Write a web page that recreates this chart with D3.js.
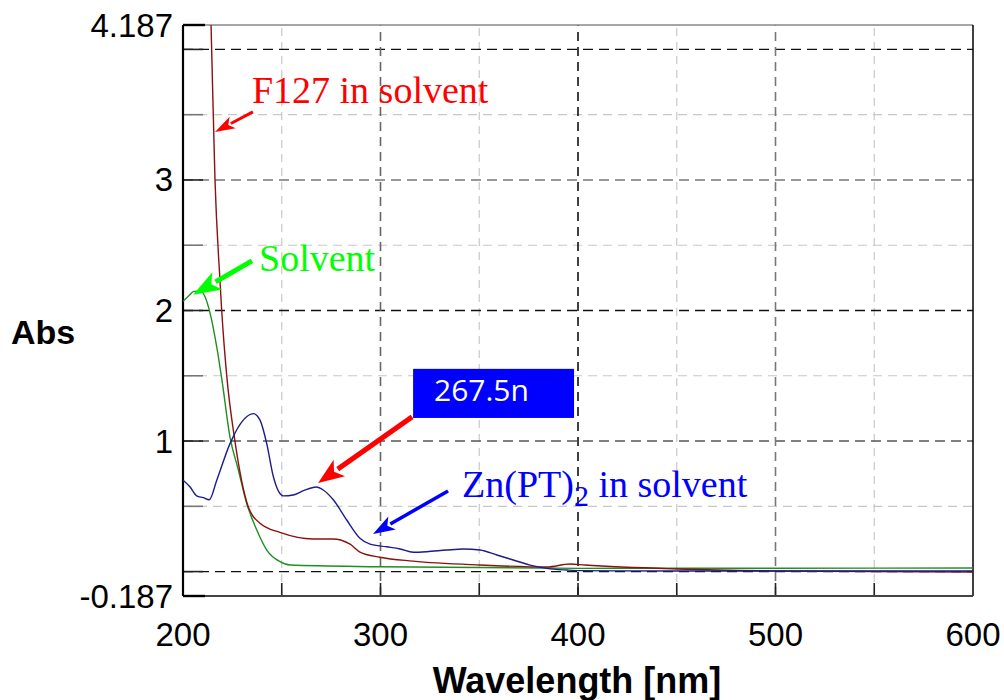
<!DOCTYPE html>
<html>
<head>
<meta charset="utf-8">
<script src="https://cdn.jsdelivr.net/npm/d3@7"></script>
<style>
  html, body { margin: 0; padding: 0; background: #fff; }
  svg { display: block; }
</style>
</head>
<body>
<svg id="chart" width="1004" height="700"></svg>
<script>
// ---------- data ----------
const xTickLabels = [200, 300, 400, 500, 600];
const yTickLabels = ["4.187", "3", "2", "1", "-0.187"];
const yTickValues = [4.187, 3, 2, 1, -0.187];
const xMajorGrid = [300, 400, 500];
const xMinorGrid = [250, 350, 450, 550];
const yMajorGrid = [0, 1, 2, 3, 4];
const yMinorGrid = [0.5, 1.5, 2.5, 3.5];

// F127 in solvent (dark red)
const f127Wl = [211.0, 212.9, 214.2, 216.2, 218.7, 219.6, 222.1, 226.3, 232.9, 239.0, 249.1, 265.8, 275.9, 284.6, 289.6, 299.7, 316.5, 350.4, 384.3, 396.0, 403.5, 450, 500, 600];
const f127Abs = [5.8, 4.9, 4.187, 3.0, 2.234, 2.0, 1.507, 1.0, 0.503, 0.37, 0.30, 0.25, 0.25, 0.21, 0.15, 0.11, 0.08, 0.05, 0.035, 0.058, 0.05, 0.02, 0.005, -0.003];

// Solvent (green)
const solvWl = [200, 203.5, 205.2, 208.6, 211.1, 213.7, 217.1, 219.6, 223.8, 228.0, 232.3, 237.3, 242.4, 249.1, 254.2, 299.7, 401, 450, 500, 600];
const solvAbs = [2.07, 2.12, 2.145, 2.15, 2.107, 1.98, 1.72, 1.48, 1.03, 0.78, 0.52, 0.32, 0.165, 0.076, 0.05, 0.037, 0.025, 0.026, 0.026, 0.027];

// Zn(PT)2 in solvent (navy)
const znWl = [200, 203.5, 206.9, 210.3, 213.3, 217.1, 223.8, 230.5, 235.6, 239.0, 242.4, 245.7, 250.8, 255.8, 261.0, 267.5, 271.0, 276.1, 282.9, 289.6, 294.7, 303.1, 309.9, 316.6, 323.4, 333.5, 342.0, 350.4, 358.9, 367.2, 375.7, 384.2, 394.3, 401, 450, 500, 600];
const znAbs = [0.70, 0.65, 0.58, 0.566, 0.55, 0.70, 0.98, 1.16, 1.21, 1.16, 0.98, 0.73, 0.58, 0.587, 0.62, 0.648, 0.625, 0.55, 0.395, 0.255, 0.21, 0.19, 0.173, 0.148, 0.152, 0.165, 0.173, 0.165, 0.127, 0.089, 0.05, 0.025, 0.012, 0.007, 0.005, 0.005, 0.004];

// ---------- layout ----------
const svg = d3.select("#chart");
const margin = { left: 183, top: 25, right: 1004 - 973, bottom: 700 - 596 };
const W = 1004 - margin.left - margin.right;
const H = 700 - margin.top - margin.bottom;

const x = d3.scaleLinear().domain([200, 600]).range([margin.left, margin.left + W]);
const y = d3.scaleLinear().domain([-0.187, 4.187]).range([margin.top + H, margin.top]);

const gridDark = { 0: "#111", 1: "#555", 2: "#111", 3: "#777", 4: "#111", 300: "#666", 400: "#111", 500: "#777" };

const g = svg.append("g");

// minor grid
g.selectAll(".ymin").data(yMinorGrid).join("line")
  .attr("x1", x(200)).attr("x2", x(600))
  .attr("y1", d => y(d)).attr("y2", d => y(d))
  .attr("stroke", "#c8c8c8").attr("stroke-width", 1.2).attr("stroke-dasharray", "9,6");
g.selectAll(".xmin").data(xMinorGrid).join("line")
  .attr("y1", y(-0.187)).attr("y2", y(4.187))
  .attr("x1", d => x(d)).attr("x2", d => x(d))
  .attr("stroke", "#c8c8c8").attr("stroke-width", 1.2).attr("stroke-dasharray", "8,6");
// major grid
g.selectAll(".ymaj").data(yMajorGrid).join("line")
  .attr("x1", x(200)).attr("x2", x(600))
  .attr("y1", d => y(d)).attr("y2", d => y(d))
  .attr("stroke", d => gridDark[d]).attr("stroke-width", 1.4).attr("stroke-dasharray", "10,6");
g.selectAll(".xmaj").data(xMajorGrid).join("line")
  .attr("y1", y(-0.187)).attr("y2", y(4.187))
  .attr("x1", d => x(d)).attr("x2", d => x(d))
  .attr("stroke", d => gridDark[d]).attr("stroke-width", 1.6).attr("stroke-dasharray", "9,6");

// ticks (inward)
const yTickAll = [-0.187, 0, 0.5, 1, 1.5, 2, 2.5, 3, 3.5, 4, 4.187];
g.selectAll(".yt").data(yTickAll).join("line")
  .attr("x1", x(200)).attr("x2", x(200) + 20)
  .attr("y1", d => y(d)).attr("y2", d => y(d))
  .attr("stroke", d => (d % 1 === 0 || Math.abs(d) > 4 || d < 0) ? "#222" : "#777").attr("stroke-width", 1.6);
const xTickAll = [250, 300, 350, 400, 450, 500, 550];
g.selectAll(".xt").data(xTickAll).join("line")
  .attr("y1", y(-0.187)).attr("y2", y(-0.187) - 13)
  .attr("x1", d => x(d)).attr("x2", d => x(d))
  .attr("stroke", "#222").attr("stroke-width", 1.6);

// frame
g.append("line").attr("x1", x(200)).attr("x2", x(600)).attr("y1", y(4.187)).attr("y2", y(4.187)).attr("stroke", "#888").attr("stroke-width", 1.5);
g.append("line").attr("x1", x(600)).attr("x2", x(600)).attr("y1", y(4.187)).attr("y2", y(-0.187)).attr("stroke", "#000").attr("stroke-width", 1.5);
g.append("line").attr("x1", x(200)).attr("x2", x(600)).attr("y1", y(-0.187)).attr("y2", y(-0.187)).attr("stroke", "#444").attr("stroke-width", 2.2);
g.append("line").attr("x1", x(200)).attr("x2", x(200)).attr("y1", y(4.187)).attr("y2", y(-0.187)).attr("stroke", "#000").attr("stroke-width", 2.2);
g.append("line").attr("x1", x(200)).attr("x2", x(200) + 22).attr("y1", y(-0.187)).attr("y2", y(-0.187)).attr("stroke", "#000").attr("stroke-width", 2.4);
g.append("line").attr("x1", x(200)).attr("x2", x(200) + 22).attr("y1", y(4.187)).attr("y2", y(4.187)).attr("stroke", "#000").attr("stroke-width", 2.4);

// tick labels
g.selectAll(".ylab").data(yTickValues).join("text")
  .attr("x", x(200) - 10).attr("y", d => y(d))
  .attr("text-anchor", "end").attr("dominant-baseline", "central")
  .attr("font-family", "Liberation Sans, Arial, sans-serif").attr("font-size", 33).attr("fill", "#000")
  .text((d, i) => yTickLabels[i]);
g.selectAll(".xlab").data(xTickLabels).join("text")
  .attr("x", d => x(d)).attr("y", 646)
  .attr("text-anchor", "middle")
  .attr("font-family", "Liberation Sans, Arial, sans-serif").attr("font-size", 33).attr("fill", "#000")
  .text(d => d);

// axis titles
svg.append("text").attr("x", 11).attr("y", 344)
  .attr("font-family", "Liberation Sans, Arial, sans-serif").attr("font-weight", "bold").attr("font-size", 34)
  .text("Abs");
svg.append("text").attr("x", 577).attr("y", 693).attr("text-anchor", "middle")
  .attr("font-family", "Liberation Sans, Arial, sans-serif").attr("font-weight", "bold").attr("font-size", 36)
  .text("Wavelength [nm]");

// curves
svg.append("clipPath").attr("id", "plotclip").append("rect")
  .attr("x", margin.left).attr("y", margin.top).attr("width", W).attr("height", H);
const line = d3.line().x(d => x(d[0])).y(d => y(d[1])).curve(d3.curveMonotoneX);
const curves = g.append("g").attr("clip-path", "url(#plotclip)");
curves.append("path").datum(d3.zip(solvWl, solvAbs)).attr("d", line)
  .attr("fill", "none").attr("stroke", "#1f8f1f").attr("stroke-width", 1.4);
curves.append("path").datum(d3.zip(f127Wl, f127Abs)).attr("d", line)
  .attr("fill", "none").attr("stroke", "#8b1010").attr("stroke-width", 1.4);
curves.append("path").datum(d3.zip(znWl, znAbs)).attr("d", line)
  .attr("fill", "none").attr("stroke", "#1c1c8a").attr("stroke-width", 1.4);

// annotations (in data units)
function arrow(tail, tip, color, shaft, headLen, headW) {
  const x0 = x(tail[0]), y0 = y(tail[1]), x1 = x(tip[0]), y1 = y(tip[1]);
  const dx = x1 - x0, dy = y1 - y0, L = Math.hypot(dx, dy);
  const ux = dx / L, uy = dy / L, px = -uy, py = ux;
  const bx = x1 - ux * headLen, by = y1 - uy * headLen;
  g.append("line").attr("x1", x0).attr("y1", y0).attr("x2", bx + ux * 2).attr("y2", by + uy * 2)
    .attr("stroke", color).attr("stroke-width", shaft);
  g.append("polygon")
    .attr("points", [[x1, y1], [bx + px * headW / 2, by + py * headW / 2], [bx + ux * headLen * 0.25, by + uy * headLen * 0.25], [bx - px * headW / 2, by - py * headW / 2]].map(p => p.join(",")).join(" "))
    .attr("fill", color);
}
const serif = "Liberation Serif, 'Times New Roman', serif";

// F127
arrow([235.4, 3.522], [216.2, 3.368], "#ff0000", 3, 20, 13);
g.append("text").attr("x", x(234.9)).attr("y", y(3.59))
  .attr("font-family", serif).attr("font-size", 38).attr("fill", "#ff0000").text("F127 in solvent");

// Solvent
arrow([234.9, 2.38], [205.1, 2.12], "#00ff00", 5, 28, 20);
g.append("text").attr("x", x(238.5)).attr("y", y(2.306))
  .attr("font-family", serif).attr("font-size", 38).attr("fill", "#00ff00").text("Solvent");

// 267.5n box
arrow([316.0, 1.185], [268.4, 0.679], "#ff0000", 5, 26, 20);
g.append("rect").attr("x", x(316.5)).attr("y", y(1.553))
  .attr("width", x(398) - x(316.5)).attr("height", y(1.177) - y(1.553)).attr("fill", "#0000ff");
g.append("text").attr("x", x(327.1)).attr("y", y(1.307))
  .attr("font-family", "'Open Sans', 'DejaVu Sans', sans-serif").attr("font-size", 30).attr("fill", "#fff").text("267.5n");

// Zn(PT)2
arrow([334.2, 0.618], [296.2, 0.288], "#0000ff", 3.5, 22, 15);
const zt = g.append("text").attr("x", x(341.3)).attr("y", y(0.572))
  .attr("font-family", serif).attr("font-size", 38).attr("fill", "#0000ff");
zt.append("tspan").text("Zn(PT)");
zt.append("tspan").attr("font-size", 30).attr("dy", 9).text("2");
zt.append("tspan").attr("dy", -9).text(" in solvent");
</script>
</body>
</html>
